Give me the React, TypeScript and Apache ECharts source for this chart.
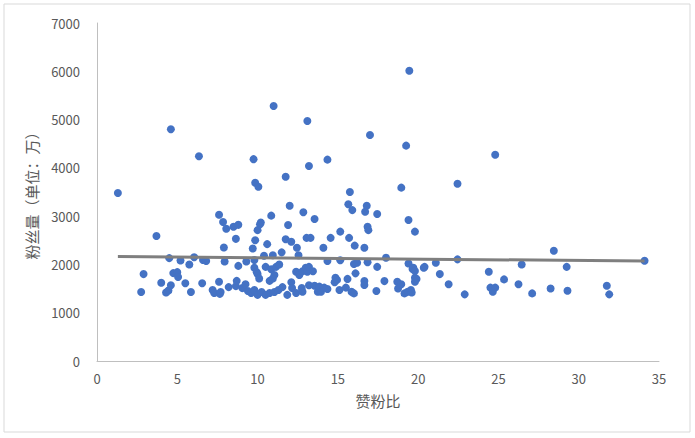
import { useEffect, useRef } from 'react';
import * as echarts from 'echarts';

// 赞粉比 / 粉丝量 (万)
const fanRatio = [
  1.3, 2.75, 2.9, 3.7, 4.0, 4.3, 4.45, 4.6, 4.5, 4.6, 4.75, 5.0, 5.05, 5.2, 5.5, 5.75, 5.85, 6.05, 6.35, 6.55,
  6.6, 6.8, 7.2, 7.3, 7.6, 7.65, 7.7, 7.6, 7.85, 7.9, 7.95, 8.05, 8.2, 8.5, 8.65, 8.65, 8.7, 8.8, 8.8, 9.05,
  9.25, 9.3, 9.4, 9.6, 9.7, 9.75, 9.8, 9.8, 9.8, 9.85, 9.85, 9.95, 10.0, 10.0, 10.0, 10.05, 10.1, 10.15, 10.2, 10.25,
  10.4, 10.5, 10.5, 10.6, 10.75, 10.75, 10.85, 10.85, 10.95, 10.95, 11.0, 11.05, 11.05, 11.15, 11.3, 11.35, 11.5, 11.55, 11.75, 11.75,
  11.85, 11.9, 12.0, 12.1, 12.1, 12.15, 12.4, 12.4, 12.45, 12.55, 12.6, 12.75, 12.8, 12.85, 12.8, 13.0, 13.05, 13.1, 13.1, 13.2,
  13.2, 13.3, 13.2, 13.45, 13.55, 13.55, 13.75, 13.85, 13.95, 14.1, 14.15, 14.35, 14.35, 14.35, 14.55, 14.8, 14.85, 14.95, 15.1, 15.15,
  15.15, 15.5, 15.6, 15.65, 15.7, 15.75, 15.85, 15.9, 16.0, 16.0, 16.05, 16.1, 16.2, 16.65, 16.65, 16.65, 16.7, 16.8, 16.85, 16.85,
  16.9, 17.0, 17.4, 17.45, 17.45, 17.9, 18.0, 18.7, 18.75, 18.95, 18.95, 19.15, 19.25, 19.35, 19.4, 19.4, 19.45, 19.55, 19.6, 19.65,
  19.7, 19.8, 19.8, 19.8, 19.9, 19.8, 20.35, 20.4, 21.1, 21.35, 21.9, 22.45, 22.45, 22.9, 24.4, 24.5, 24.65, 24.8, 24.8, 25.35,
  26.25, 26.45, 27.1, 28.25, 28.45, 29.25, 29.3, 31.75, 31.9, 34.1,
];
const fans = [
  3480, 1430, 1800, 2590, 1620, 1420, 1460, 1570, 2130, 4800, 1820, 1840, 1740, 2080, 1610, 2000, 1430, 2150, 4240, 1610,
  2090, 2070, 1470, 1410, 1640, 1390, 1430, 3030, 2880, 2350, 2060, 2740, 1530, 2780, 1550, 2530, 1660, 2820, 1970, 1510,
  1590, 2060, 1450, 1410, 2330, 4180, 1470, 1930, 2090, 3690, 2500, 1840, 1370, 1800, 2710, 3610, 1710, 2830, 2870, 1430,
  2180, 1370, 1950, 2420, 1410, 1660, 3010, 1900, 2190, 1710, 5280, 1430, 1780, 1950, 1470, 2000, 2250, 1530, 3815, 2520,
  1370, 2815, 3215, 2470, 1630, 1510, 1410, 1850, 2345, 2190, 1780, 1510, 1860, 3080, 1435, 1930, 2550, 4970, 1850, 4040,
  1950, 2550, 1570, 1860, 2940, 1560, 1435, 1540, 1435, 2345, 1520, 1490, 2070, 4170, 2550, 1630, 1725, 1680, 1470, 2680,
  2085, 1520, 1700, 3245, 2550, 3500, 1435, 3125, 1400, 2010, 2390, 1815, 2035, 2345, 1655, 1575, 3090, 3215, 2780, 2045,
  2710, 4680, 1450, 3045, 1950, 1655, 2140, 1640, 1500, 1590, 3590, 1400, 4460, 1435, 2920, 2020, 6010, 1470, 1420, 1905,
  1930, 2680, 1865, 1725, 1700, 1640, 1930, 1950, 2035, 1800, 1590, 2105, 3670, 1380, 1850, 1520, 1435, 1520, 4270, 1690,
  1590, 2000, 1400, 1500, 2285, 1950, 1455, 1560, 1380, 2075,
];
// linear trend line (start, end)
const trendX = [1.3, 34.1];
const trendY = [2165, 2070];

const xTicks = { min: 0, max: 35, interval: 5 };
const yTicks = { min: 0, max: 7000, interval: 1000 };

export default function App() {
  const chartRef = useRef<HTMLDivElement>(null);

  useEffect(() => {
    document.body.style.margin = '0';
    if (!chartRef.current) return;
    const chart = echarts.init(chartRef.current, null, { renderer: 'svg' });

    const points = fanRatio.map((x, i) => [x, fans[i]]);
    const trend = trendX.map((x, i) => [x, trendY[i]]);
    const font = '"Noto Sans CJK SC", "Noto Sans", sans-serif';

    chart.setOption({
      animation: false,
      backgroundColor: '#fff',
      textStyle: { fontFamily: font },
      graphic: [
        {
          type: 'rect',
          shape: { x: 4, y: 4, width: 686, height: 428 },
          style: { fill: 'none', stroke: '#d9d9d9', lineWidth: 1 },
          silent: true,
        },
      ],
      grid: { left: 97, right: 36, top: 23, bottom: 77 },
      xAxis: {
        type: 'value',
        ...xTicks,
        name: '赞粉比',
        nameLocation: 'middle',
        nameGap: 32,
        nameTextStyle: { color: '#595959', fontSize: 15, fontFamily: font },
        axisLine: { show: true, lineStyle: { color: '#bfbfbf', width: 1 } },
        axisTick: { show: false },
        splitLine: { show: false },
        axisLabel: { color: '#595959', fontSize: 13, margin: 11, fontFamily: font },
      },
      yAxis: {
        type: 'value',
        ...yTicks,
        name: '粉丝量（单位：万）',
        nameLocation: 'middle',
        nameGap: 58,
        nameRotate: 90,
        nameTextStyle: { color: '#595959', fontSize: 15, fontFamily: font },
        axisLine: { show: true, lineStyle: { color: '#bfbfbf', width: 1 } },
        axisTick: { show: false },
        splitLine: { show: false },
        axisLabel: {
          color: '#595959',
          fontSize: 13,
          margin: 17,
          fontFamily: font,
          formatter: (v: number) => String(v),
        },
      },
      series: [
        {
          type: 'scatter',
          data: points,
          symbolSize: 8,
          itemStyle: { color: '#4472c4', opacity: 1 },
          z: 2,
        },
        {
          type: 'line',
          data: trend,
          symbol: 'none',
          lineStyle: { color: '#7f7f7f', width: 3 },
          z: 3,
        },
      ],
    });

    return () => {
      chart.dispose();
    };
  }, []);

  return <div ref={chartRef} style={{ width: 695, height: 438 }} />;
}
